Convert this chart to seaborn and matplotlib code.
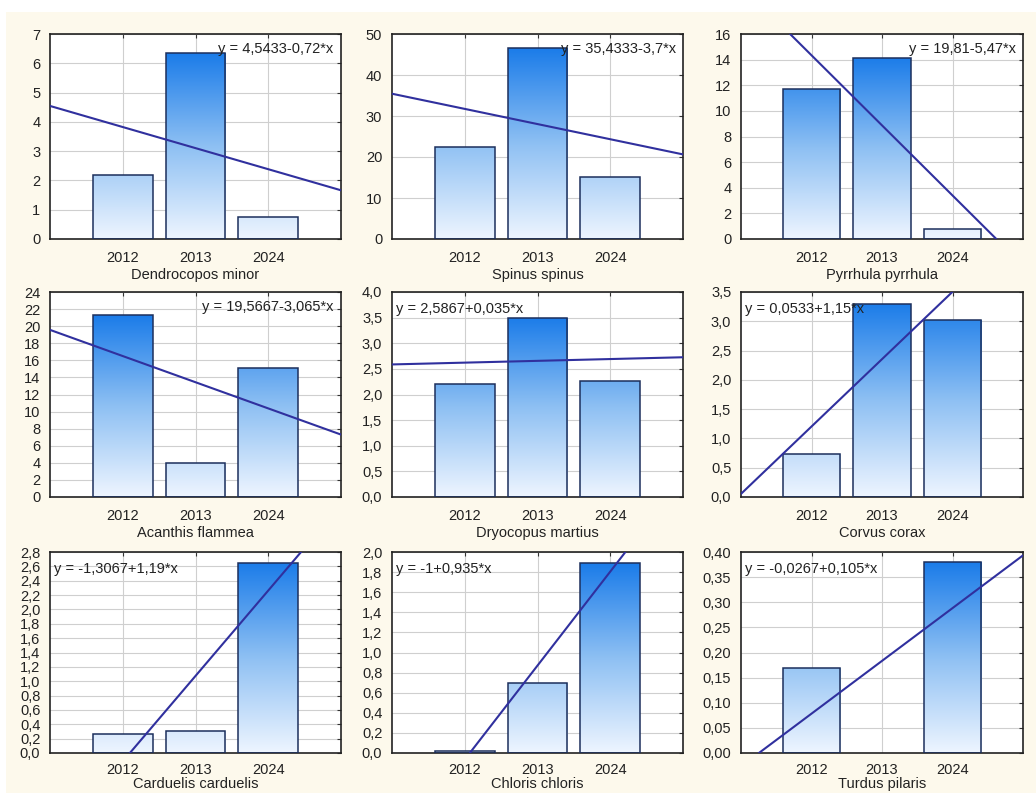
import numpy as np
import pandas as pd
import seaborn as sns
import matplotlib.pyplot as plt
from matplotlib.colors import LinearSegmentedColormap
from matplotlib.patches import Rectangle
from matplotlib.ticker import FuncFormatter, MultipleLocator

# data
years = ["2012", "2013", "2024"]
species = ["Dendrocopos minor", "Spinus spinus", "Pyrrhula pyrrhula",
           "Acanthis flammea", "Dryocopus martius", "Corvus corax",
           "Carduelis carduelis", "Chloris chloris", "Turdus pilaris"]
values = [
    [2.2, 6.35, 0.76],
    [22.5, 46.5, 15.1],
    [11.7, 14.15, 0.76],
    [21.25, 3.94, 15.12],
    [2.2, 3.5, 2.27],
    [0.73, 3.30, 3.03],
    [0.27, 0.30, 2.65],
    [0.02, 0.70, 1.89],
    [0.17, 0.0, 0.38],
]
intercepts = [4.5433, 35.4333, 19.81, 19.5667, 2.5867, 0.0533, -1.3067, -1.0, -0.0267]
slopes = [-0.72, -3.7, -5.47, -3.065, 0.035, 1.15, 1.19, 0.935, 0.105]
equations = ["y = 4,5433-0,72*x", "y = 35,4333-3,7*x", "y = 19,81-5,47*x",
             "y = 19,5667-3,065*x", "y = 2,5867+0,035*x", "y = 0,0533+1,15*x",
             "y = -1,3067+1,19*x", "y = -1+0,935*x", "y = -0,0267+0,105*x"]
y_max = [7, 50, 16, 24, 4.0, 3.5, 2.8, 2.0, 0.40]
y_step = [1, 10, 2, 2, 0.5, 0.5, 0.2, 0.2, 0.05]
y_decimals = [0, 0, 0, 0, 1, 1, 1, 1, 2]
eq_right = [True, True, True, True, False, False, False, False, False]

sns.set_style("white")
plt.rcParams['font.family'] = ['Liberation Sans', 'DejaVu Sans']
plt.rcParams['font.size'] = 10.5

W, H = 1036, 793
fig = plt.figure(figsize=(W / 100, H / 100), dpi=100, facecolor="#fdf9ec")
# white strips along the top and left edge
fig.patches.append(Rectangle((0, 1 - 12 / H), 1, 12 / H, transform=fig.transFigure,
                             facecolor="white", edgecolor="none", zorder=-10))
fig.patches.append(Rectangle((0, 0), 6 / W, 1, transform=fig.transFigure,
                             facecolor="white", edgecolor="none", zorder=-10))

cols = [(50, 341), (392, 683), (741, 1023)]
rows = [(34, 239), (292, 497), (552, 753)]

grad = LinearSegmentedColormap.from_list("grad", ["#eef5ff", "#8ec0f3", "#1b7ce9"])
line_color = "#30309e"
edge_color = "#1c2f5c"

for i, name in enumerate(species):
    r, c = divmod(i, 3)
    x0, x1 = cols[c]
    top, bot = rows[r]
    ax = fig.add_axes([x0 / W, 1 - bot / H, (x1 - x0) / W, (bot - top) / H])
    ax.set_facecolor("white")

    df = pd.DataFrame({"x": [1, 2, 3], "y": values[i]})
    sns.barplot(data=df, x="x", y="y", native_scale=True, width=0.82,
                color="white", edgecolor=edge_color, linewidth=1.1, ax=ax, zorder=3)

    vmax = max(values[i])
    for p in ax.patches:
        bx, bw, bh = p.get_x(), p.get_width(), p.get_height()
        if bh <= 0:
            p.set_visible(False)
            continue
        img = ax.imshow(np.linspace(0, 1, 256).reshape(-1, 1), cmap=grad, origin="lower",
                        extent=[bx, bx + bw, 0, vmax], aspect="auto", zorder=2.5,
                        interpolation="bilinear")
        img.set_clip_path(p)
        p.set_facecolor("none")

    ax.axline((0, intercepts[i]), slope=slopes[i], color=line_color, lw=1.5, zorder=4)

    ax.set_xlim(0, 4)
    ax.set_ylim(0, y_max[i])
    ax.set_xticks([1, 2, 3])
    ax.set_xticklabels(years)
    ax.yaxis.set_major_locator(MultipleLocator(y_step[i]))
    d = y_decimals[i]
    ax.yaxis.set_major_formatter(FuncFormatter(lambda v, pos, d=d: f"{v:.{d}f}".replace(".", ",")))
    ax.grid(True, color="#cfcfcf", lw=0.8, zorder=0)
    ax.set_axisbelow(True)
    ax.tick_params(direction="in", length=3, width=0.8, top=True, right=True,
                   colors="#333333", labelcolor="#222222", labelsize=10.5)
    ax.tick_params(axis="y", pad=7)
    for s in ax.spines.values():
        s.set_color("#222222")
        s.set_linewidth(1.2)
        s.set_visible(True)
    if r < 2:
        ax.tick_params(axis="x", pad=9)
        ax.set_xlabel(name, fontsize=10.5, color="#222222", labelpad=2)
    else:
        # bottom row is squeezed against the image edge
        ax.tick_params(axis="x", pad=7)
        ax.set_xlabel(name, fontsize=10.5, color="#222222", labelpad=0)
    ax.set_ylabel("")

    if eq_right[i]:
        ax.text(0.975, 0.925, equations[i], transform=ax.transAxes, ha="right",
                va="center", fontsize=10.5, color="#222222", zorder=5)
    else:
        ax.text(0.015, 0.915, equations[i], transform=ax.transAxes, ha="left",
                va="center", fontsize=10.5, color="#222222", zorder=5)

fig.savefig("out.png", dpi=100, facecolor=fig.get_facecolor())
